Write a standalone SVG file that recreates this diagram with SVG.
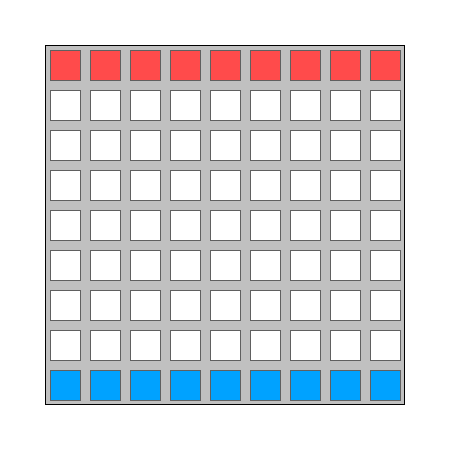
<svg xmlns="http://www.w3.org/2000/svg" width="450" height="450" viewBox="0 0 450 450">
<style>
.c{stroke:#606060;stroke-width:1}
.w{fill:#ffffff}
.r{fill:#ff4b4b}
.b{fill:#00a2ff}
</style>
<rect width="450" height="450" fill="#ffffff"/>
<rect id="board" x="45.5" y="45.5" width="359" height="359" fill="#c0c0c0" stroke="#000000" stroke-width="1"/>
<g id="row0">
<rect class="c r" x="50.5" y="50.5" width="30" height="30"/><rect class="c r" x="90.5" y="50.5" width="30" height="30"/><rect class="c r" x="130.5" y="50.5" width="30" height="30"/><rect class="c r" x="170.5" y="50.5" width="30" height="30"/><rect class="c r" x="210.5" y="50.5" width="30" height="30"/><rect class="c r" x="250.5" y="50.5" width="30" height="30"/><rect class="c r" x="290.5" y="50.5" width="30" height="30"/><rect class="c r" x="330.5" y="50.5" width="30" height="30"/><rect class="c r" x="370.5" y="50.5" width="30" height="30"/>
</g>
<g id="row1">
<rect class="c w" x="50.5" y="90.5" width="30" height="30"/><rect class="c w" x="90.5" y="90.5" width="30" height="30"/><rect class="c w" x="130.5" y="90.5" width="30" height="30"/><rect class="c w" x="170.5" y="90.5" width="30" height="30"/><rect class="c w" x="210.5" y="90.5" width="30" height="30"/><rect class="c w" x="250.5" y="90.5" width="30" height="30"/><rect class="c w" x="290.5" y="90.5" width="30" height="30"/><rect class="c w" x="330.5" y="90.5" width="30" height="30"/><rect class="c w" x="370.5" y="90.5" width="30" height="30"/>
</g>
<g id="row2">
<rect class="c w" x="50.5" y="130.5" width="30" height="30"/><rect class="c w" x="90.5" y="130.5" width="30" height="30"/><rect class="c w" x="130.5" y="130.5" width="30" height="30"/><rect class="c w" x="170.5" y="130.5" width="30" height="30"/><rect class="c w" x="210.5" y="130.5" width="30" height="30"/><rect class="c w" x="250.5" y="130.5" width="30" height="30"/><rect class="c w" x="290.5" y="130.5" width="30" height="30"/><rect class="c w" x="330.5" y="130.5" width="30" height="30"/><rect class="c w" x="370.5" y="130.5" width="30" height="30"/>
</g>
<g id="row3">
<rect class="c w" x="50.5" y="170.5" width="30" height="30"/><rect class="c w" x="90.5" y="170.5" width="30" height="30"/><rect class="c w" x="130.5" y="170.5" width="30" height="30"/><rect class="c w" x="170.5" y="170.5" width="30" height="30"/><rect class="c w" x="210.5" y="170.5" width="30" height="30"/><rect class="c w" x="250.5" y="170.5" width="30" height="30"/><rect class="c w" x="290.5" y="170.5" width="30" height="30"/><rect class="c w" x="330.5" y="170.5" width="30" height="30"/><rect class="c w" x="370.5" y="170.5" width="30" height="30"/>
</g>
<g id="row4">
<rect class="c w" x="50.5" y="210.5" width="30" height="30"/><rect class="c w" x="90.5" y="210.5" width="30" height="30"/><rect class="c w" x="130.5" y="210.5" width="30" height="30"/><rect class="c w" x="170.5" y="210.5" width="30" height="30"/><rect class="c w" x="210.5" y="210.5" width="30" height="30"/><rect class="c w" x="250.5" y="210.5" width="30" height="30"/><rect class="c w" x="290.5" y="210.5" width="30" height="30"/><rect class="c w" x="330.5" y="210.5" width="30" height="30"/><rect class="c w" x="370.5" y="210.5" width="30" height="30"/>
</g>
<g id="row5">
<rect class="c w" x="50.5" y="250.5" width="30" height="30"/><rect class="c w" x="90.5" y="250.5" width="30" height="30"/><rect class="c w" x="130.5" y="250.5" width="30" height="30"/><rect class="c w" x="170.5" y="250.5" width="30" height="30"/><rect class="c w" x="210.5" y="250.5" width="30" height="30"/><rect class="c w" x="250.5" y="250.5" width="30" height="30"/><rect class="c w" x="290.5" y="250.5" width="30" height="30"/><rect class="c w" x="330.5" y="250.5" width="30" height="30"/><rect class="c w" x="370.5" y="250.5" width="30" height="30"/>
</g>
<g id="row6">
<rect class="c w" x="50.5" y="290.5" width="30" height="30"/><rect class="c w" x="90.5" y="290.5" width="30" height="30"/><rect class="c w" x="130.5" y="290.5" width="30" height="30"/><rect class="c w" x="170.5" y="290.5" width="30" height="30"/><rect class="c w" x="210.5" y="290.5" width="30" height="30"/><rect class="c w" x="250.5" y="290.5" width="30" height="30"/><rect class="c w" x="290.5" y="290.5" width="30" height="30"/><rect class="c w" x="330.5" y="290.5" width="30" height="30"/><rect class="c w" x="370.5" y="290.5" width="30" height="30"/>
</g>
<g id="row7">
<rect class="c w" x="50.5" y="330.5" width="30" height="30"/><rect class="c w" x="90.5" y="330.5" width="30" height="30"/><rect class="c w" x="130.5" y="330.5" width="30" height="30"/><rect class="c w" x="170.5" y="330.5" width="30" height="30"/><rect class="c w" x="210.5" y="330.5" width="30" height="30"/><rect class="c w" x="250.5" y="330.5" width="30" height="30"/><rect class="c w" x="290.5" y="330.5" width="30" height="30"/><rect class="c w" x="330.5" y="330.5" width="30" height="30"/><rect class="c w" x="370.5" y="330.5" width="30" height="30"/>
</g>
<g id="row8">
<rect class="c b" x="50.5" y="370.5" width="30" height="30"/><rect class="c b" x="90.5" y="370.5" width="30" height="30"/><rect class="c b" x="130.5" y="370.5" width="30" height="30"/><rect class="c b" x="170.5" y="370.5" width="30" height="30"/><rect class="c b" x="210.5" y="370.5" width="30" height="30"/><rect class="c b" x="250.5" y="370.5" width="30" height="30"/><rect class="c b" x="290.5" y="370.5" width="30" height="30"/><rect class="c b" x="330.5" y="370.5" width="30" height="30"/><rect class="c b" x="370.5" y="370.5" width="30" height="30"/>
</g>
<g id="connectors"/>
</svg>
